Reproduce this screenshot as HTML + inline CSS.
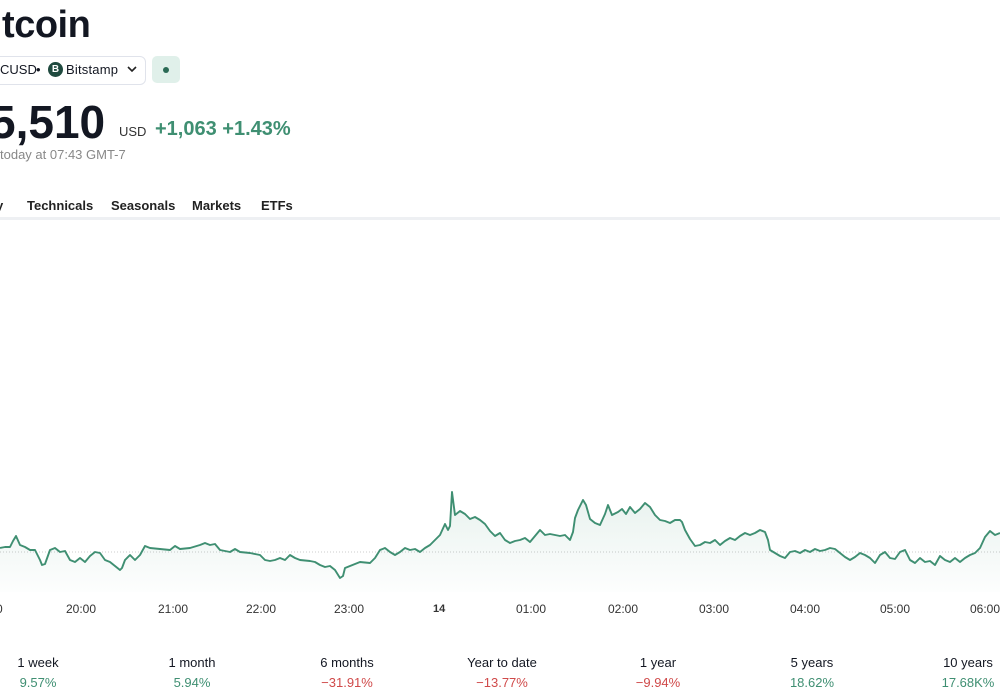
<!DOCTYPE html>
<html><head><meta charset="utf-8"><style>
body{margin:0;width:1000px;height:700px;overflow:hidden;background:#fff;font-family:"Liberation Sans",sans-serif;color:#131722;position:relative}
.a{position:absolute;white-space:nowrap}
.lbl{font-size:12px;color:#333;top:602px}
.pl{font-size:13px;color:#131722;top:655px;text-align:center;width:120px}
.pv{font-size:13px;top:675px;text-align:center;width:120px}
.g{color:#3f8f72}.r{color:#d04a4a}
.t{font-size:13px;font-weight:bold;color:#222;top:198px}
</style></head><body>
<div class="a" style="left:-8px;top:4px;font-size:38px;font-weight:bold;letter-spacing:-0.5px">itcoin</div>
<div class="a" style="left:-20px;top:56px;width:164px;height:27px;border:1px solid #e0e3eb;border-radius:6px"></div>
<div class="a" style="left:0;top:62px;font-size:13px">CUSD</div>
<div class="a" style="left:36px;top:62px;font-size:13px">•</div>
<div class="a" style="left:48px;top:62px;width:15px;height:15px;border-radius:50%;background:#1f4a3f;color:#fff;font-size:10px;text-align:center;line-height:15px;font-weight:bold">B</div>
<div class="a" style="left:66px;top:62px;font-size:13px;letter-spacing:0.2px">Bitstamp</div>
<svg class="a" style="left:127px;top:66px" width="10" height="7"><path d="M1,1 L5,5 L9,1" fill="none" stroke="#222" stroke-width="1.6"/></svg>
<div class="a" style="left:152px;top:56px;width:28px;height:27px;background:#e0f0ea;border-radius:5px"><div style="position:absolute;left:11px;top:11px;width:6px;height:6px;border-radius:50%;background:#2a6a55"></div></div>
<div class="a" style="left:-10px;top:95px;font-size:46px;font-weight:bold;letter-spacing:0px">5,510</div>
<div class="a" style="left:119px;top:124px;font-size:13px;color:#333">USD</div>
<div class="a g" style="left:155px;top:118px;font-size:20px;font-weight:bold;font-weight:600">+1,063 +1.43%</div>
<div class="a" style="left:0;top:147px;font-size:13px;color:#888">today at 07:43 GMT-7</div>
<div class="a t" style="left:-4px">y</div>
<div class="a t" style="left:27px">Technicals</div>
<div class="a t" style="left:111px">Seasonals</div>
<div class="a t" style="left:192px">Markets</div>
<div class="a t" style="left:261px">ETFs</div>
<div class="a" style="left:0;top:217px;width:1000px;height:3px;background:#eef0f3"></div>
<svg class="a" style="left:0;top:0" width="1000" height="700">
<defs><linearGradient id="f" x1="0" y1="0" x2="0" y2="1"><stop offset="0" stop-color="#3f8f72" stop-opacity="0.12"/><stop offset="1" stop-color="#3f8f72" stop-opacity="0.01"/></linearGradient></defs>
<line x1="0" y1="552" x2="1000" y2="552" stroke="#ccc" stroke-dasharray="1,2" stroke-width="1"/>
<polygon id="fp" fill="url(#f)" points=""/>
<polyline id="pl" fill="none" stroke="#3f8f72" stroke-width="1.9" stroke-linejoin="round" points="0,548 5,547 10,547 13,541 16,536 20,545 25,547 30,550 35,550 40,560 42,565 45,564 50,550 55,548 60,552 65,551 70,560 75,562 80,558 85,562 90,556 95,552 100,553 105,560 110,562 115,566 120,570 122,568 125,560 130,555 135,560 140,555 145,546 150,548 160,549 170,550 175,546 180,549 190,548 200,545 205,543 210,545 215,544 220,550 230,552 235,549 240,552 250,553 260,555 265,560 270,561 275,560 280,558 285,560 290,555 295,558 300,560 310,561 315,562 320,565 325,567 330,566 335,570 340,578 343,576 345,568 350,566 355,564 360,562 370,563 375,558 380,550 385,548 390,552 395,555 400,552 405,548 410,550 415,549 420,552 425,548 430,545 435,540 440,535 445,524 448,530 450,526 452,492 455,515 460,511 465,514 470,519 475,517 480,520 485,524 490,531 495,536 500,533 505,540 510,543 515,541 520,540 525,538 530,542 535,536 540,530 545,535 550,534 555,535 560,536 565,535 570,540 573,532 575,518 578,510 583,500 586,505 590,519 595,523 600,525 605,514 608,505 612,515 618,512 622,509 626,514 630,507 635,513 640,509 645,503 650,507 655,515 660,520 665,521 670,523 675,520 680,520 682,522 685,530 690,539 695,546 700,545 705,542 710,543 715,540 720,545 725,541 730,538 735,540 740,536 745,533 750,535 755,533 760,530 765,532 768,540 770,550 775,553 780,556 785,558 790,552 795,551 800,553 805,550 810,552 815,549 820,551 825,550 830,548 835,549 840,553 845,557 850,560 855,557 860,553 865,555 870,558 875,563 880,555 885,552 890,558 895,559 900,552 905,550 910,560 915,563 920,558 925,562 930,561 935,565 940,556 945,560 950,562 955,558 960,562 965,558 970,555 975,553 980,548 985,537 990,531 995,535 1000,533"/>
</svg>
<script>var p=document.getElementById('pl').getAttribute('points');document.getElementById('fp').setAttribute('points','0,592 '+p+' 1000,592');</script>
<div class="a lbl" style="left:-4px">0</div>
<div class="a lbl" style="left:66px">20:00</div>
<div class="a lbl" style="left:158px">21:00</div>
<div class="a lbl" style="left:246px">22:00</div>
<div class="a lbl" style="left:334px">23:00</div>
<div class="a lbl" style="left:433px;font-weight:bold;font-size:11px;top:603px">14</div>
<div class="a lbl" style="left:516px">01:00</div>
<div class="a lbl" style="left:608px">02:00</div>
<div class="a lbl" style="left:699px">03:00</div>
<div class="a lbl" style="left:790px">04:00</div>
<div class="a lbl" style="left:880px">05:00</div>
<div class="a lbl" style="left:970px">06:00</div>
<div class="a pl" style="left:-22px">1 week</div><div class="a pv g" style="left:-22px">9.57%</div>
<div class="a pl" style="left:132px">1 month</div><div class="a pv g" style="left:132px">5.94%</div>
<div class="a pl" style="left:287px">6 months</div><div class="a pv r" style="left:287px">−31.91%</div>
<div class="a pl" style="left:442px">Year to date</div><div class="a pv r" style="left:442px">−13.77%</div>
<div class="a pl" style="left:598px">1 year</div><div class="a pv r" style="left:598px">−9.94%</div>
<div class="a pl" style="left:752px">5 years</div><div class="a pv g" style="left:752px">18.62%</div>
<div class="a pl" style="left:908px">10 years</div><div class="a pv g" style="left:908px">17.68K%</div>
</body></html>
